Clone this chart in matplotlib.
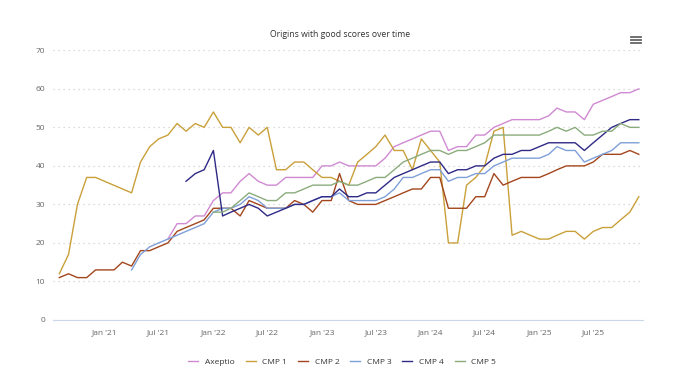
import matplotlib
matplotlib.use("Agg")
import matplotlib.pyplot as plt
import matplotlib.dates as mdates
from matplotlib.lines import Line2D
import pandas as pd
import numpy as np

plt.rcParams['font.family'] = ['Open Sans', 'DejaVu Sans']

months = pd.date_range("2020-08-01", periods=65, freq="MS")

axeptio = [None] * 12 + [21, 25, 25, 27, 27, 31, 33, 33, 36, 38, 36, 35, 35, 37, 37, 37, 37, 40, 40, 41,
                         40, 40, 40, 40, 42, 45, 46, 47, 48, 49, 49, 44, 45, 45, 48, 48, 50, 51, 52, 52,
                         52, 52, 53, 55, 54, 54, 52, 56, 57, 58, 59, 59, 60]
cmp1 = [12, 17, 30, 37, 37, None, None, None, 33, 41, 45, 47, 48, 51, 49, 51, 50, 54, 50, 50,
        46, 50, 48, 50, 39, 39, 41, 41, 39, 37, 37, 36, 35, 41, 43, 45, 48, 44, 44, 39,
        47, 44, 41, 20, 20, 35, 37, 40, 49, 50, 22, 23, 22, 21, 21, 22, 23, 23, 21, 23,
        24, 24, 26, 28, 32]
cmp2 = [11, 12, 11, 11, 13, 13, 13, 15, 14, 18, 18, 19, 20, 23, 24, 25, 26, 29, 29, 29,
        27, 31, 30, 29, 29, 29, 31, 30, 28, 31, 31, 38, 31, 30, 30, 30, 31, 32, 33, 34,
        34, 37, 37, 29, 29, 29, 32, 32, 38, 35, 36, 37, 37, 37, 38, 39, 40, 40, 40, 41,
        43, 43, 43, 44, 43]
cmp3 = [None] * 8 + [13, 17, 19, 20, 21, 22, 23, 24, 25, 28, 29, 29, 30, 32, 31, 29, 29, 29,
                     30, 30, 31, 32, 32, 33, 31, 31, 31, 31, 32, 34, 37, 37, 38, 39, 39, 36, 37,
                     37, 38, 38, 40, 41, 42, 42, 42, 42, 43, 45, 44, 44, 41, 42, 43, 44, 46, 46, 46]
cmp4 = [None] * 14 + [36, 38, 39, 44, 27, 28, 29, 30, 29, 27, 28, 29, 30, 30, 31, 32, 32, 34,
                      32, 32, 33, 33, 35, 37, 38, 39, 40, 41, 41, 38, 39, 39, 40, 40, 42, 43, 43,
                      44, 44, 45, 46, 46, 46, 46, 44, 46, 48, 50, 51, 52, 52]
cmp5 = [None] * 17 + [28, 28, 29, 31, 33, 32, 31, 31, 33, 33, 34, 35, 35, 35, 36, 35, 35, 36,
                      37, 37, 39, 41, 42, 43, 44, 44, 43, 44, 44, 45, 46, 48, 48, 48, 48, 48, 48,
                      49, 50, 49, 50, 48, 48, 49, 49, 51, 50, 50]

names = ["Axeptio", "CMP 1", "CMP 2", "CMP 3", "CMP 4", "CMP 5"]
series = [axeptio, cmp1, cmp2, cmp3, cmp4, cmp5]
colors = ["#d08ad2", "#c9a03a", "#a3461d", "#7f9fd8", "#2e2a86", "#8aac7c"]

fig = plt.figure(figsize=(6.84, 3.84), dpi=100)
ax = fig.add_axes([0.078, 0.1667, 0.862, 0.7023])

for name, vals, c in zip(names, series, colors):
    s = pd.Series(vals, index=months, dtype=float).dropna()
    ax.plot(s.index, s.values, color=c, lw=1.0, label=name)

ax.set_ylim(0, 70)
ax.set_yticks(range(0, 71, 10))
ax.set_xlim(months[0] - pd.Timedelta(days=20), months[-1] + pd.Timedelta(days=14))
ax.xaxis.set_major_locator(mdates.MonthLocator(bymonth=[1, 7]))
ax.xaxis.set_major_formatter(mdates.DateFormatter("%b '%y"))

ax.grid(axis="y", color="#d0d0d0", linestyle=(0, (1, 3)), lw=0.9)
ax.set_axisbelow(True)
for side in ["top", "right", "left"]:
    ax.spines[side].set_visible(False)
ax.spines["bottom"].set_color("#ccd6eb")
ax.spines["bottom"].set_linewidth(0.8)
ax.tick_params(axis="y", length=0, labelsize=6, colors="#666666", pad=6)
ax.tick_params(axis="x", length=0, labelsize=6, colors="#666666", pad=7)

fig.text(0.497, 0.911, "Origins with good scores over time", ha="center", va="center",
         fontsize=6.2, color="#333333")

# menu icon
for yy in [37, 40, 43]:
    fig.add_artist(Line2D([631 / 684, 641 / 684], [1 - yy / 384, 1 - yy / 384],
                          color="#666666", lw=1.3, transform=fig.transFigure))

ax.legend(loc="center", bbox_to_anchor=(0.49, -0.155), ncol=6, frameon=False,
          fontsize=6, handlelength=1.2, columnspacing=1.3, handletextpad=0.8,
          labelcolor="#333333")

fig.savefig("out.png", dpi=100)
